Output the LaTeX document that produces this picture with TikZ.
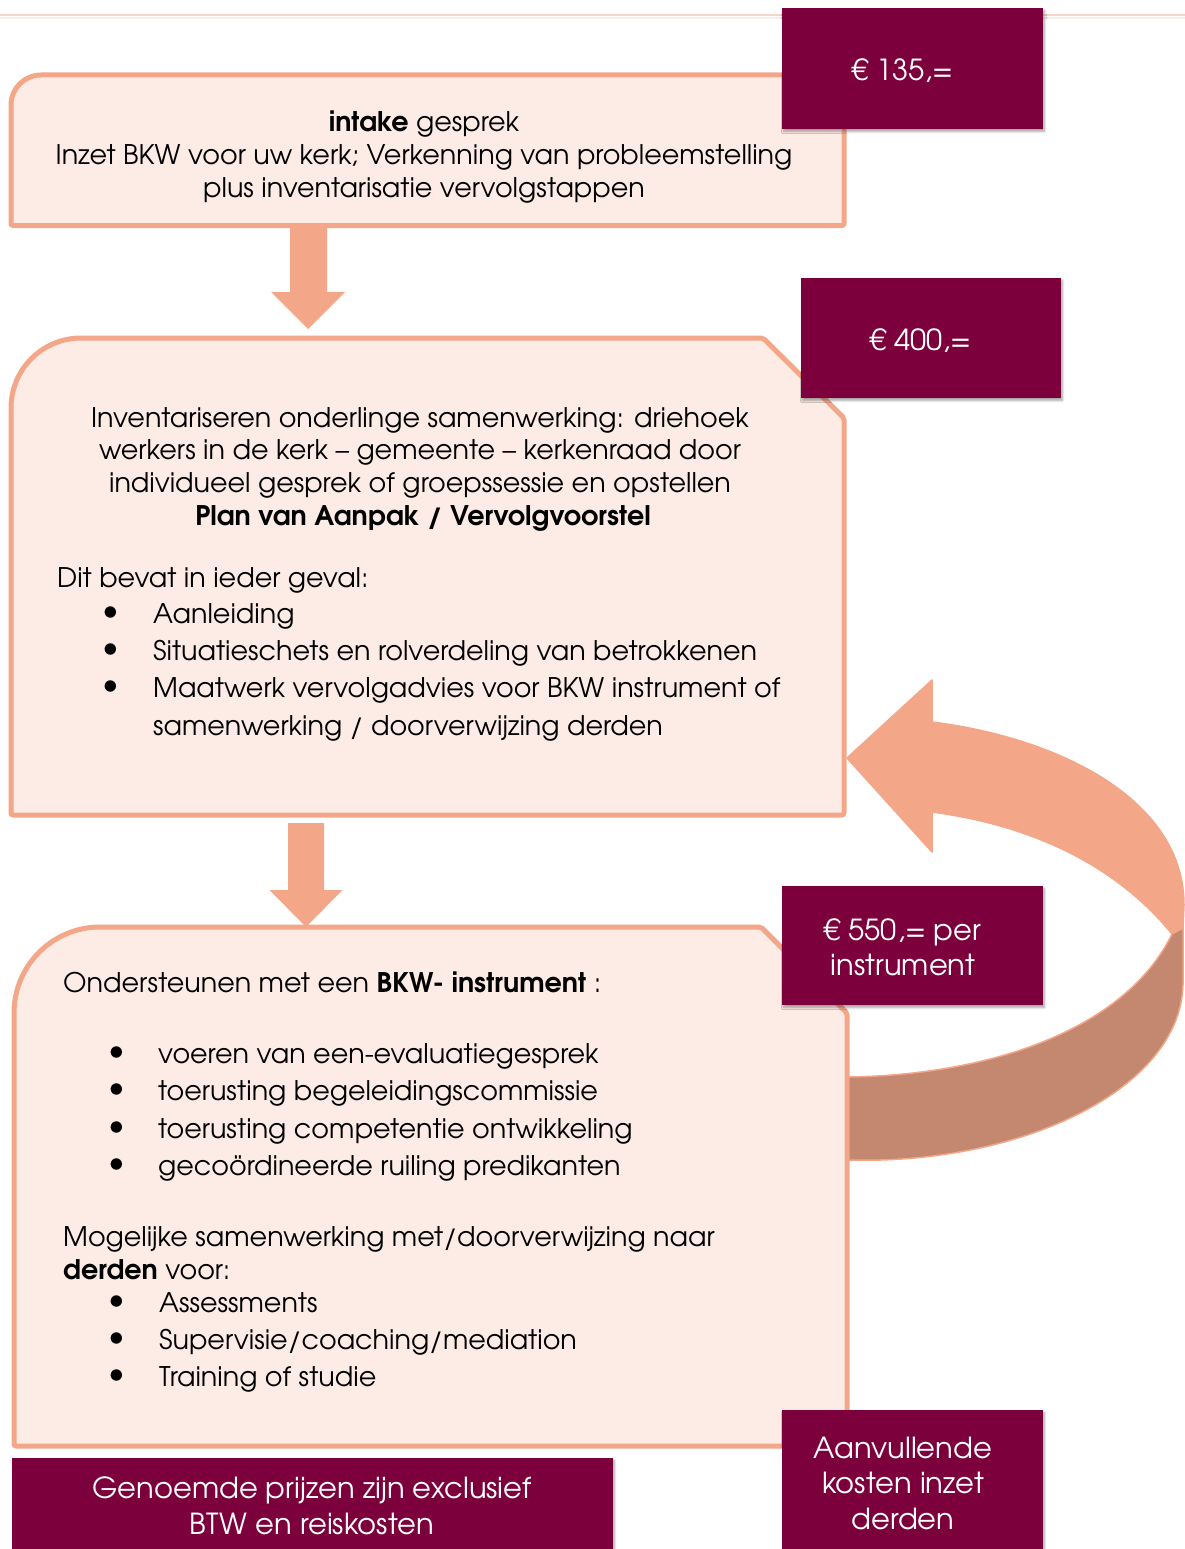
\documentclass[tikz,border=0pt]{standalone}
\usepackage{fontspec}
\setmainfont{texgyreadventor}[Extension=.otf, UprightFont=*-regular, BoldFont=*-bold, ItalicFont=*-italic, BoldItalicFont=*-bolditalic]
\usetikzlibrary{calc,shadows.blur}
\definecolor{salmon}{RGB}{244,166,136}
\definecolor{boxfill}{RGB}{252,236,229}
\definecolor{burg}{RGB}{124,0,59}
\definecolor{arrowdark}{RGB}{196,136,112}
\definecolor{topline}{RGB}{245,214,205}
\tikzset{
  body/.style={font=\fontsize{27}{33}\selectfont, inner sep=0pt, anchor=base, text=black},
  bodyl/.style={body, anchor=base west},
  bul/.style={font=\fontsize{32}{32}\selectfont, inner sep=0pt, anchor=center, text=black},
  pricebox/.style={fill=burg, draw=none, inner sep=0pt, blur shadow={shadow xshift=1.5pt, shadow yshift=-2.5pt, shadow blur steps=6, shadow opacity=35}},
  pricetext/.style={body, font=\fontsize{29}{33}\selectfont, text=white},
  boxline/.style={draw=salmon, line width=5pt, fill=boxfill, line join=round},
  blockarrow/.style={fill=salmon, draw=none},
  ribbonlight/.style={fill=salmon, draw=salmon, line width=1.5pt, line join=round},
  ribbondark/.style={fill=arrowdark, draw=salmon, line width=1.5pt, line join=round}
}
\begin{document}
\begin{tikzpicture}[x=1pt,y=-1pt]
\useasboundingbox (0,0) rectangle (1185,1549);
% top rule
\draw[topline, line width=2pt] (0,15) -- (1185,15);
\draw[topline!50, line width=1.5pt] (0,18) -- (1185,18);

% curved return arrow
\coordinate (rtip) at (847,758);
\fill[ribbonlight] (rtip) -- (932,680) -- (932,722)
  .. controls (1060,738) and (1184,800) .. (1184,905) -- (1183,928) -- (1172,934)
  .. controls (1115,864) and (1030,825) .. (932,812) -- (932,852) -- cycle;
\fill[ribbondark] (848,1077) .. controls (990,1075) and (1125,1030) .. (1172,934)
  -- (1183,928) -- (1183,985)
  .. controls (1180,1090) and (1020,1165) .. (848,1160) -- cycle;

% block arrows
\coordinate (a1s) at (308.5,227);
\coordinate (a1e) at (308,329);
\fill[blockarrow] ($(a1s)+(-18.5,0)$) -- ($(a1s)+(-18.5,65)$) -- ($(a1e)+(-37,-37)$) -- (a1e)
  -- ($(a1e)+(37,-37)$) -- ($(a1s)+(18.5,65)$) -- ($(a1s)+(18.5,0)$) -- cycle;
\coordinate (a2s) at (306,823);
\coordinate (a2e) at (306,927);
\fill[blockarrow] ($(a2s)+(-18,0)$) -- ($(a2s)+(-18,67)$) -- ($(a2e)+(-36.5,-37)$) -- (a2e)
  -- ($(a2e)+(36.5,-37)$) -- ($(a2s)+(18,67)$) -- ($(a2s)+(18,0)$) -- cycle;

% boxes
\draw[boxline] (11,150) [rounded corners=30pt] -- (11,75) -- (300,75) [rounded corners=2pt]
  -- (844,75) -- (844,225.5) -- (11,225.5) -- cycle;
\draw[boxline] (11,600) [rounded corners=70pt] -- (11,338) -- (300,338) [rounded corners=2pt]
  -- (763,338) -- (844,418) -- (844,815) -- (11,815) -- cycle;
\draw[boxline] (14,1200) [rounded corners=86pt] -- (14,927) -- (300,927) [rounded corners=2pt]
  -- (761,927) -- (847,1013) -- (847,1446) -- (14,1446) -- cycle;

% box 1 text
\node[body] (b1a) at (424,132) {\textbf{intake} gesprek};
\node[body] (b1b) at (424,165) {Inzet BKW voor uw kerk; Verkenning van probleemstelling};
\node[body] (b1c) at (424,197) {plus inventarisatie vervolgstappen};

% box 2 text
\node[body] (b2a) at (420,427) {Inventariseren onderlinge samenwerking: driehoek};
\node[body] (b2b) at (420,459) {werkers in de kerk – gemeente – kerkenraad door};
\node[body] (b2c) at (420,492) {individueel gesprek of groepssessie en opstellen};
\node[body] (b2d) at (423,525) {\textbf{Plan van Aanpak / Vervolgvoorstel}};
\node[bodyl] (b2e) at (57,587) {Dit bevat in ieder geval:};
\node[bul] (b2f1) at (111,614) {•};
\node[bodyl] (b2f) at (153,623) {Aanleiding};
\node[bul] (b2g1) at (111,651) {•};
\node[bodyl] (b2g) at (153,660) {Situatieschets en rolverdeling van betrokkenen};
\node[bul] (b2h1) at (111,688) {•};
\node[bodyl] (b2h) at (153,697) {Maatwerk vervolgadvies voor BKW instrument of};
\node[bodyl] (b2i) at (153,735) {samenwerking / doorverwijzing derden};

% box 3 text
\node[bodyl] (b3a) at (63,992) {Ondersteunen met een \textbf{BKW- instrument} :};
\node[bul] (b3b1) at (117,1054) {•};
\node[bodyl] (b3b) at (158,1063) {voeren van een-evaluatiegesprek};
\node[bul] (b3c1) at (117,1091) {•};
\node[bodyl] (b3c) at (158,1100) {toerusting begeleidingscommissie};
\node[bul] (b3d1) at (117,1129) {•};
\node[bodyl] (b3d) at (158,1138) {toerusting competentie ontwikkeling};
\node[bul] (b3e1) at (117,1166) {•};
\node[bodyl] (b3e) at (158,1175) {gecoördineerde ruiling predikanten};
\node[bodyl] (b3f) at (63,1246) {Mogelijke samenwerking met/doorverwijzing naar};
\node[bodyl] (b3g) at (63,1279) {\textbf{derden} voor:};
\node[bul] (b3h1) at (117,1303) {•};
\node[bodyl] (b3h) at (159,1312) {Assessments};
\node[bul] (b3i1) at (117,1340) {•};
\node[bodyl] (b3i) at (159,1349) {Supervisie/coaching/mediation};
\node[bul] (b3j1) at (117,1377) {•};
\node[bodyl] (b3j) at (159,1386) {Training of studie};

% price boxes
\node[pricebox, minimum width=261pt, minimum height=121pt] (p1) at (912.5,68.5) {};
\node[pricetext] (p1t) at (903,81) {€ 135,=};
\node[pricebox, minimum width=260pt, minimum height=120pt] (p2) at (931,338) {};
\node[pricetext] (p2t) at (921,350) {€ 400,=};
\node[pricebox, minimum width=261pt, minimum height=119pt] (p3) at (912.5,945.5) {};
\node[pricetext] (p3t) at (903,940) {€ 550,= per};
\node[pricetext] (p3u) at (903,975) {instrument};
\node[pricebox, minimum width=601pt, minimum height=96pt] (p4) at (312.5,1506) {};
\node[pricetext] (p4t) at (312,1498) {Genoemde prijzen zijn exclusief};
\node[pricetext] (p4u) at (312,1534) {BTW en reiskosten};
\node[pricebox, minimum width=261pt, minimum height=144pt] (p5) at (912.5,1482) {};
\node[pricetext] (p5t) at (903,1458) {Aanvullende};
\node[pricetext] (p5u) at (903,1493) {kosten inzet};
\node[pricetext] (p5v) at (903,1529) {derden};
\end{tikzpicture}
\end{document}
